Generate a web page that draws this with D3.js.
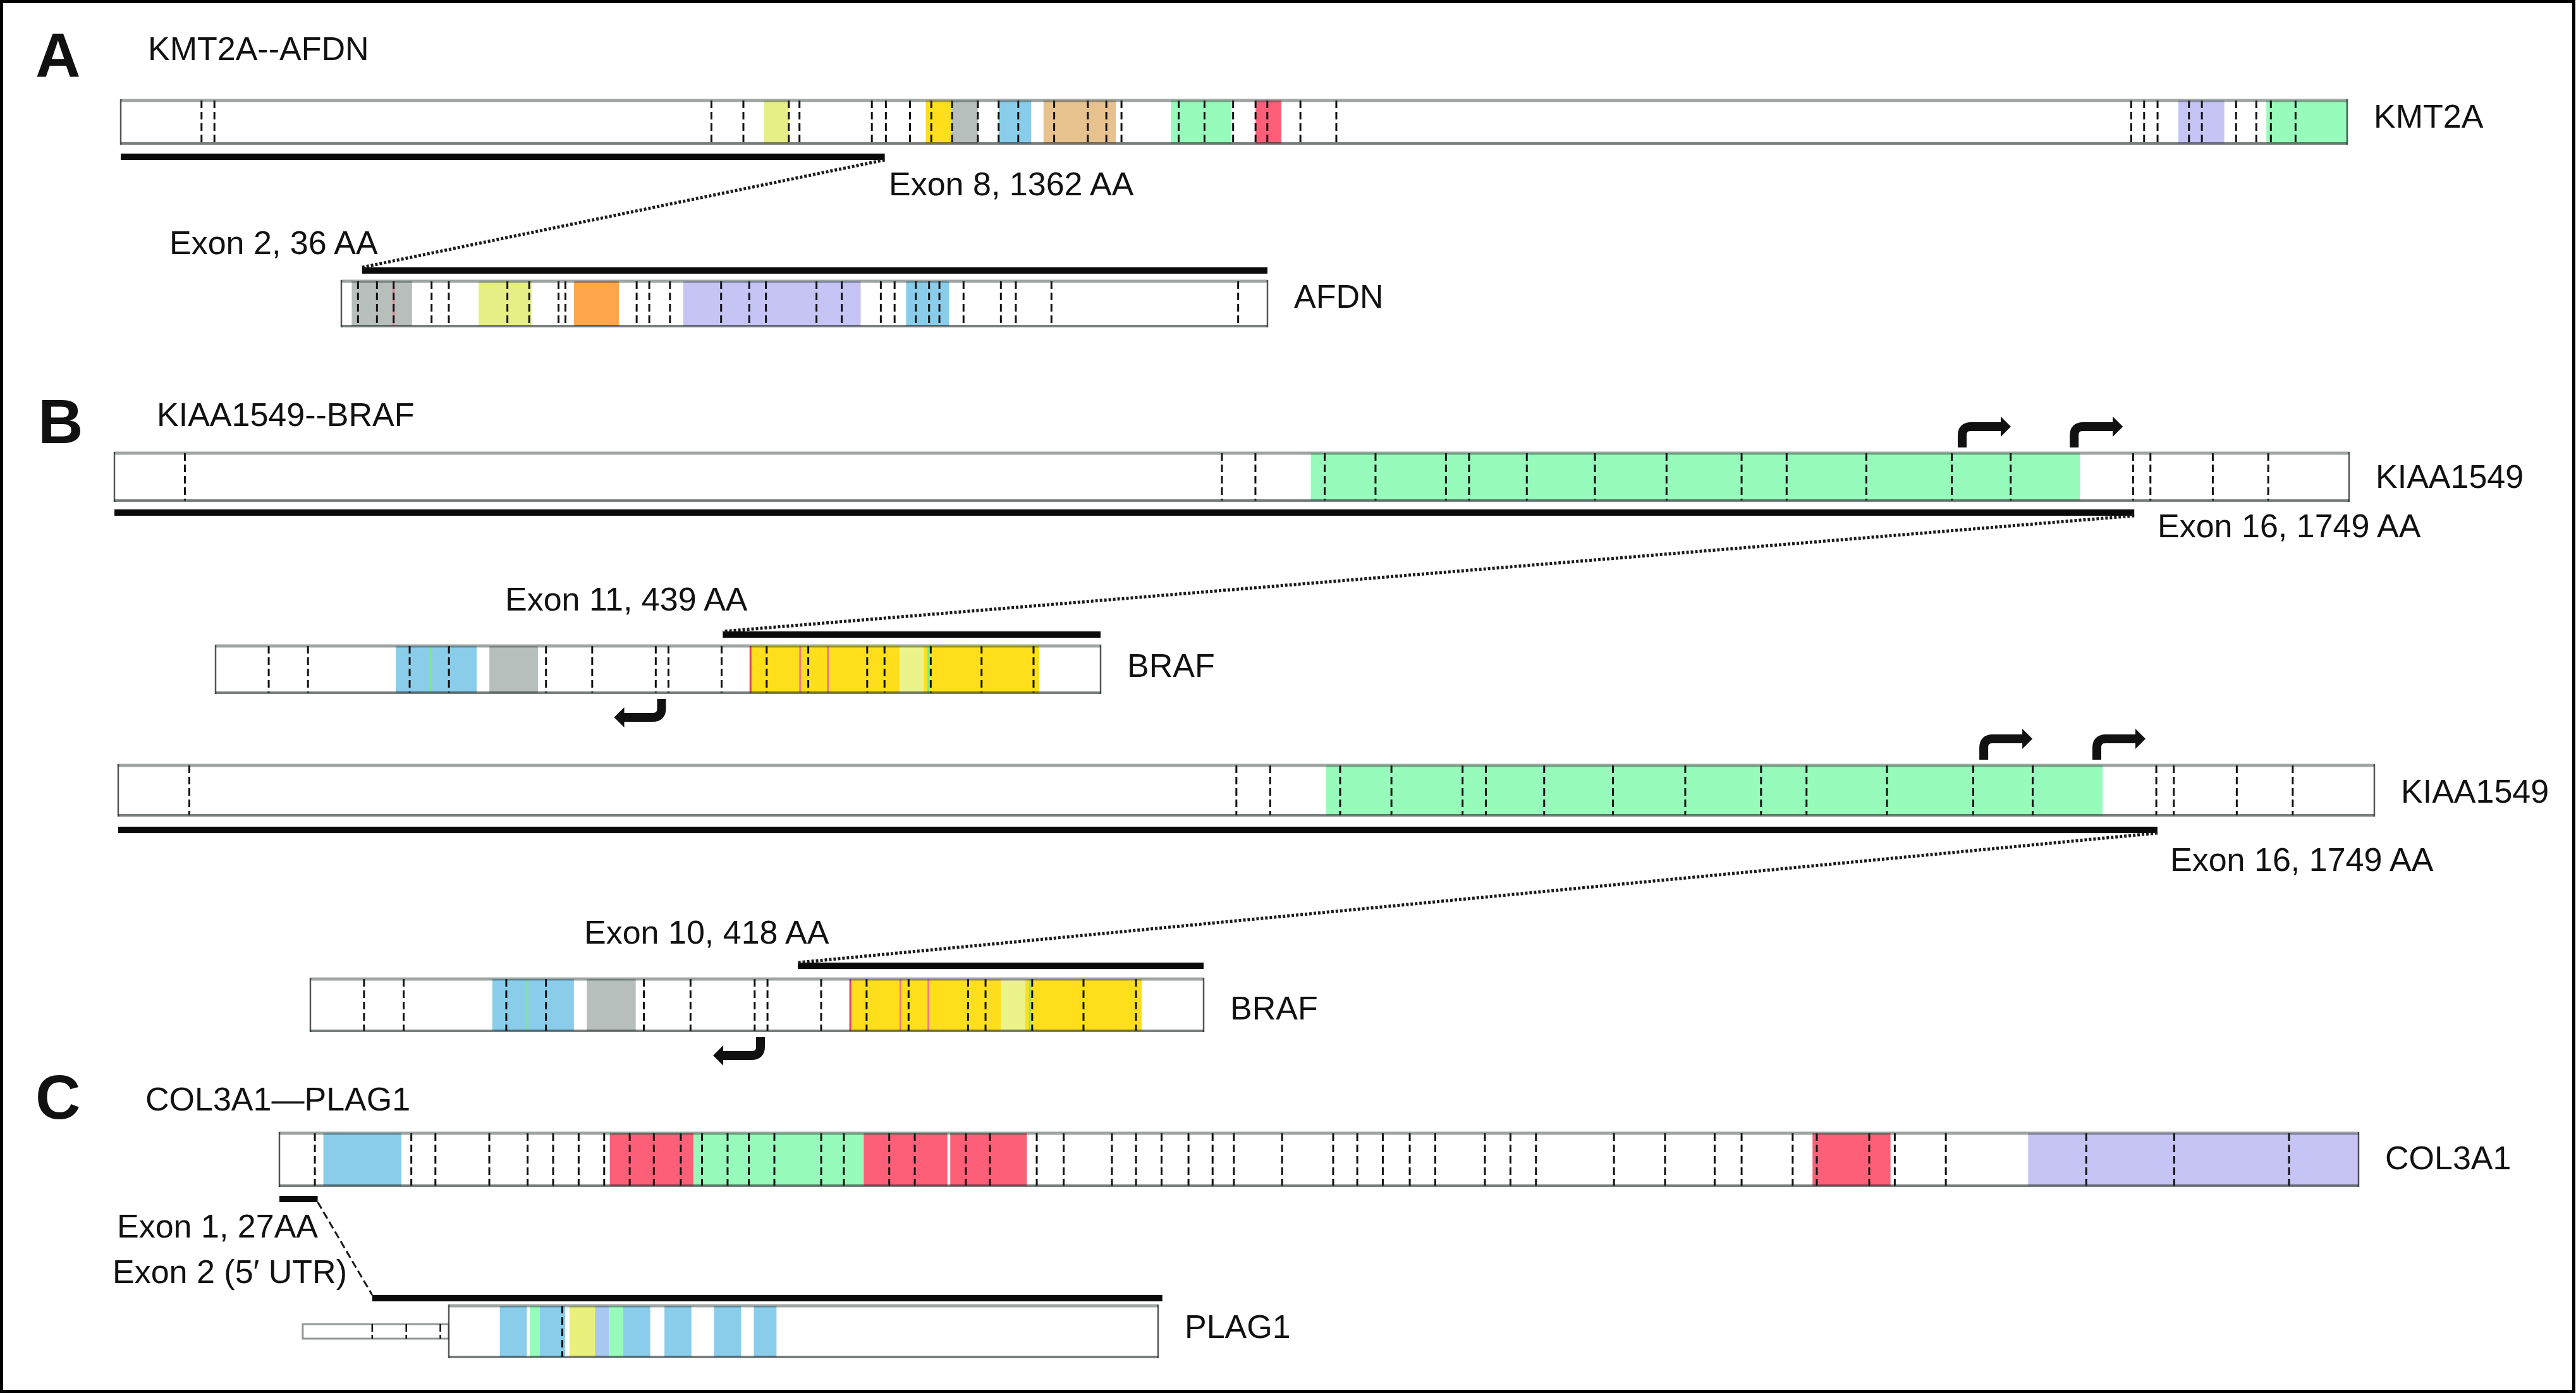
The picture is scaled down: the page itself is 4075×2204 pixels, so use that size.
<!DOCTYPE html>
<html>
<head>
<meta charset="utf-8">
<script src="https://cdn.jsdelivr.net/npm/d3@7"></script>
<style>
  html, body { margin: 0; padding: 0; background: #fff; }
  svg { display: block; }
  text { font-family: "Liberation Sans", Arial, Helvetica, sans-serif; fill: #111; }
</style>
</head>
<body>
<script>
// ---------------- DATA (amino-acid coordinates) ----------------
const panelLetters = ["A", "B", "C"];
const fusionTitles = ["KMT2A--AFDN", "KIAA1549--BRAF", "COL3A1\u2014PLAG1"];

const kmt2aLength = 3969;
const kmt2aDomains = [[1147,1191,"yellowgreen"],[1435,1481,"yellow"],[1481,1528,"gray"],[1565,1623,"blue"],
  [1645,1774,"tan"],[1872,1980,"green"],[2023,2069,"red"],[3668,3750,"lavender"],[3825,3969,"green"]];
const kmt2aExons = [144,167,1053,1110,1191,1210,1339,1364,1407,1445,1482,1528,1565,1600,1664,1724,1757,1784,
  1886,1932,1983,2023,2044,2103,2167,3584,3607,3631,3687,3710,3771,3807,3833,3877];

const afdnLength = 1612;
const afdnDomains = [[18,123,"gray"],[239,331,"yellowgreen"],[405,483,"orange"],[595,904,"lavender"],[983,1058,"blue"]];
const afdnMarks = [[91,"pink"]];
const afdnExons = [29,62,91,157,187,289,327,378,390,514,536,572,661,710,739,827,871,939,963,1000,1023,1041,
  1083,1148,1174,1236,1561];

const kiaaLength = 1935;
const kiaaDomains = [[1036,1702,"green"]];
const kiaaExons = [61,959,988,1048,1092,1153,1173,1223,1282,1344,1409,1448,1517,1591,1642,1748,1763,1817,1865];
const kiaaStartSites = [1600, 1697];

const brafLength = 766;
const brafDomains = [[156,226,"blue"],[237,279,"gray"],[463,713,"yellow"],[592,613,"lightyellow"]];
const brafMarks = [[186,"green"],[463,"red"],[506,"pink"],[530,"pink"],[617,"green"]];
const brafExons = [46,80,168,202,286,326,381,392,438,477,513,564,579,619,663,708];
const brafStartSites = [386];

const col3a1Length = 1466;
const col3a1Domains = [[31,86,"blue"],[233,292,"red"],[292,412,"green"],[412,471,"red"],[473,527,"red"],
  [1081,1136,"red"],[1233,1466,"lavender"]];
const col3a1Exons = [25,93,110,148,175,193,211,229,247,264,283,298,316,331,349,382,398,430,448,484,501,534,553,
  587,604,622,641,658,673,707,743,760,778,797,815,850,868,886,941,977,1012,1031,1067,1084,1121,1139,1175,1274,1336,1417];

const plag1Length = 500;
const plag1Utr = [-103, 0];
const plag1UtrExons = [-54, -30, -6];
const plag1Domains = [[36,55,"blue"],[57,64,"green"],[64,82,"blue"],[85,103,"yellow2"],[103,113,"lavblue"],
  [113,123,"green"],[123,142,"blue"],[152,171,"blue"],[187,206,"blue"],[215,231,"blue"]];
const plag1Exons = [80];

// fusion junctions: [5' gene AA kept, 3' gene AA start]
const fusionJunctions = [
  { from: "KMT2A", fromAA: 1362, to: "AFDN", toAA: 36, fromLabel: "Exon 8, 1362 AA", toLabel: "Exon 2, 36 AA" },
  { from: "KIAA1", fromAA: 1749, to: "BRAF1", toAA: 439, fromLabel: "Exon 16, 1749 AA", toLabel: "Exon 11, 439 AA" },
  { from: "KIAA2", fromAA: 1749, to: "BRAF2", toAA: 418, fromLabel: "Exon 16, 1749 AA", toLabel: "Exon 10, 418 AA" },
  { from: "COL3A1", fromAA: 27, to: "PLAG1", toAA: -54, fromLabel: "Exon 1, 27AA", toLabel: "Exon 2 (5\u2032 UTR)" }
];

// ---------------- STYLE ----------------
const colors = {
  yellowgreen: "#e6ef86", yellow: "#ffdf1c", gray: "#b7bfbc", blue: "#8acdeb", tan: "#e7c28f",
  green: "#97fbbb", red: "#fe5f78", lavender: "#c6c4f5", orange: "#ffa64b", lightyellow: "#ecf38a",
  yellow2: "#e9f07c", lavblue: "#a9c8f2", pink: "#f26a86"
};
const markColors = { green: "#7fe87f", red: "#f0405a", pink: "#f07a8a" };

// ---------------- LAYOUT ----------------
const W = 4075, H = 2204;
const genes = {
  KMT2A:  { name: "KMT2A",    len: kmt2aLength,  dom: kmt2aDomains,  ex: kmt2aExons,  marks: [], x0: 191, x1: 3713, y: 159,  h: 68, labelY: 202, blackY: 243, black: [0, 1362] },
  AFDN:   { name: "AFDN",     len: afdnLength,   dom: afdnDomains,   ex: afdnExons,   marks: afdnMarks, x0: 540, x1: 2005, y: 445, h: 71, labelY: 487, blackY: 423, black: [36, 1612] },
  KIAA1:  { name: "KIAA1549", len: kiaaLength,   dom: kiaaDomains,   ex: kiaaExons,   marks: [], x0: 181, x1: 3716, y: 717,  h: 75, labelY: 772, blackY: 806, black: [0, 1749], tss: kiaaStartSites, dir: 1 },
  BRAF1:  { name: "BRAF",     len: brafLength,   dom: brafDomains,   ex: brafExons,   marks: brafMarks, x0: 341, x1: 1741, y: 1022, h: 74, labelY: 1071, blackY: 999, black: [439, 766], tss: brafStartSites, dir: -1 },
  KIAA2:  { name: "KIAA1549", len: kiaaLength,   dom: kiaaDomains,   ex: kiaaExons,   marks: [], x0: 187, x1: 3756, y: 1211, h: 79, labelY: 1270, blackY: 1308, black: [0, 1749], tss: kiaaStartSites, dir: 1 },
  BRAF2:  { name: "BRAF",     len: brafLength,   dom: brafDomains,   ex: brafExons,   marks: brafMarks, x0: 491, x1: 1904, y: 1549, h: 82, labelY: 1613, blackY: 1523, black: [418, 766], tss: brafStartSites, dir: -1 },
  COL3A1: { name: "COL3A1",   len: col3a1Length, dom: col3a1Domains, ex: col3a1Exons, marks: [], x0: 442, x1: 3731, y: 1793, h: 83, labelY: 1850, blackY: 1892, black: [0, 27] },
  PLAG1:  { name: "PLAG1",    len: plag1Length,  dom: plag1Domains,  ex: plag1Exons,  marks: [], x0: 710, x1: 1832, y: 2066, h: 81, labelY: 2117, blackY: 2049, black: [-54, 503], utr: true }
};
const titlePos = [ { lx: 56, ly: 121, tx: 234, ty: 95 }, { lx: 60, ly: 701, tx: 248, ty: 674 }, { lx: 56, ly: 1770, tx: 230, ty: 1757 } ];
const junctionLabelPos = [
  { f: [1406, 309], t: [268, 402] },
  { f: [3413, 850], t: [799, 966] },
  { f: [3433, 1378], t: [924, 1493] },
  { f: [185, 1958], t: [178, 2030] }
];

const svg = d3.select("body").append("svg").attr("width", W).attr("height", H);
svg.append("rect").attr("x", 0).attr("y", 0).attr("width", W).attr("height", H).attr("fill", "#fff");
svg.append("rect").attr("x", 2.5).attr("y", 2.5).attr("width", W - 6).attr("height", H - 5)
  .attr("fill", "none").attr("stroke", "#000").attr("stroke-width", 5);

const FS = 52;

// Titles
titlePos.forEach((p, i) => {
  svg.append("text").attr("x", p.lx).attr("y", p.ly).attr("font-size", 99).attr("font-weight", "bold").text(panelLetters[i]);
  svg.append("text").attr("x", p.tx).attr("y", p.ty).attr("font-size", FS).text(fusionTitles[i]);
});

// Scales
Object.values(genes).forEach(g => {
  g.sx = d3.scaleLinear().domain([0, g.len]).range([g.x0, g.x1]);
});

function drawGene(g) {
  const grp = svg.append("g");
  const sx = g.sx;
  if (g.utr) {
    const uy = g.y + 29, uh = 23;
    grp.append("rect").attr("x", sx(plag1Utr[0])).attr("y", uy).attr("width", sx(plag1Utr[1]) - sx(plag1Utr[0])).attr("height", uh)
      .attr("fill", "#fff").attr("stroke", "rgba(40,50,48,0.5)").attr("stroke-width", 3);
    grp.selectAll(null).data(plag1UtrExons).join("line")
      .attr("x1", d => sx(d)).attr("x2", d => sx(d)).attr("y1", uy).attr("y2", uy + uh)
      .attr("stroke", "#111").attr("stroke-width", 2.5).attr("stroke-dasharray", "12,5");
  }
  grp.append("rect").attr("x", g.x0).attr("y", g.y).attr("width", g.x1 - g.x0).attr("height", g.h).attr("fill", "#fff");
  grp.selectAll(null).data(g.dom).join("rect")
    .attr("x", d => sx(d[0])).attr("y", g.y).attr("width", d => sx(d[1]) - sx(d[0])).attr("height", g.h)
    .attr("fill", d => colors[d[2]]);
  grp.selectAll(null).data(g.marks).join("line")
    .attr("x1", d => sx(d[0])).attr("x2", d => sx(d[0])).attr("y1", g.y).attr("y2", g.y + g.h)
    .attr("stroke", d => markColors[d[1]]).attr("stroke-width", 3);
  grp.selectAll(null).data(g.ex).join("line")
    .attr("x1", d => sx(d)).attr("x2", d => sx(d)).attr("y1", g.y).attr("y2", g.y + g.h)
    .attr("stroke", "#111").attr("stroke-width", 3).attr("stroke-dasharray", "12,6");
  grp.append("line").attr("x1", g.x0).attr("x2", g.x1).attr("y1", g.y).attr("y2", g.y)
    .attr("stroke", "rgba(40,55,52,0.45)").attr("stroke-width", 5);
  grp.append("line").attr("x1", g.x0).attr("x2", g.x1).attr("y1", g.y + g.h).attr("y2", g.y + g.h)
    .attr("stroke", "rgba(30,40,38,0.6)").attr("stroke-width", 4);
  [g.x0, g.x1].forEach(x => grp.append("line").attr("x1", x).attr("x2", x).attr("y1", g.y - 2).attr("y2", g.y + g.h + 2)
    .attr("stroke", "rgba(30,30,30,0.75)").attr("stroke-width", 2.5));
  grp.append("rect").attr("x", sx(g.black[0])).attr("y", g.blackY).attr("width", sx(g.black[1]) - sx(g.black[0])).attr("height", 10).attr("fill", "#0a0a0a");
  grp.append("text").attr("x", g.x1 + 42).attr("y", g.labelY).attr("font-size", FS).text(g.name);
  if (g.tss) {
    g.tss.forEach(aa => {
      const xs = sx(aa);
      if (g.dir > 0) {
        const y0 = g.y - 9, yh = g.y - 42, r = 14;
        grp.append("path").attr("d", `M${xs},${y0} V${yh + r} Q${xs},${yh} ${xs + r},${yh} H${xs + 62}`)
          .attr("fill", "none").attr("stroke", "#111").attr("stroke-width", 14);
        grp.append("path").attr("d", `M${xs + 61},${yh - 16} L${xs + 77},${yh} L${xs + 61},${yh + 16} Z`).attr("fill", "#111");
      } else {
        const yb = g.y + g.h, y0 = yb + 10, yh = yb + 39, r = 14;
        grp.append("path").attr("d", `M${xs},${y0} V${yh - r} Q${xs},${yh} ${xs - r},${yh} H${xs - 60}`)
          .attr("fill", "none").attr("stroke", "#111").attr("stroke-width", 14);
        grp.append("path").attr("d", `M${xs - 59},${yh - 16} L${xs - 75},${yh} L${xs - 59},${yh + 16} Z`).attr("fill", "#111");
      }
    });
  }
}
Object.values(genes).forEach(drawGene);

// fusion connectors and junction labels
fusionJunctions.forEach((f, i) => {
  const a = genes[f.from], b = genes[f.to];
  const isC = i === 3;
  const xa = a.sx(f.fromAA), ya = a.blackY + 10;
  const xb = b.sx(f.toAA), yb = b.blackY;
  svg.append("line").attr("x1", xa).attr("y1", ya).attr("x2", xb).attr("y2", yb)
    .attr("stroke", "#1a1a1a").attr("stroke-width", isC ? 3 : 5)
    .attr("stroke-dasharray", isC ? "12,6" : "4,3");
  const p = junctionLabelPos[i];
  svg.append("text").attr("x", p.f[0]).attr("y", p.f[1]).attr("font-size", FS).text(f.fromLabel);
  svg.append("text").attr("x", p.t[0]).attr("y", p.t[1]).attr("font-size", FS).text(f.toLabel);
});
</script>
</body>
</html>
